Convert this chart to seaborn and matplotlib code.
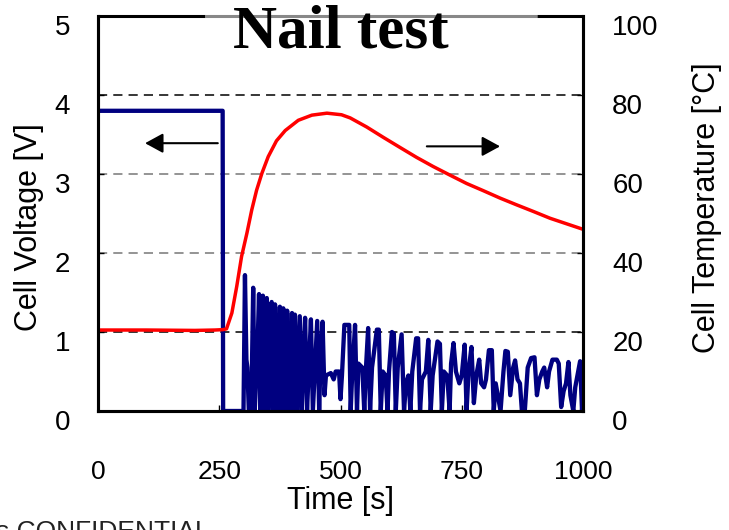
import matplotlib
matplotlib.use("Agg")
import matplotlib.pyplot as plt
import matplotlib.transforms as mtransforms
import seaborn as sns
import pandas as pd

# ---------------- data ----------------
x_ticks = [0, 250, 500, 750, 1000]
v_ticks = [0, 1, 2, 3, 4, 5]
t_ticks = [0, 20, 40, 60, 80, 100]

temp_t = [0, 100, 200, 241, 258, 265, 276, 286, 296, 307, 317, 327, 338,
          351, 368, 386, 413, 441, 472, 502, 520, 554, 588, 623, 657, 691,
          726, 760, 794, 829, 863, 898, 932, 966, 1000]
temp_c = [20.5, 20.5, 20.4, 20.5, 20.6, 20.8, 24.8, 31.5, 39.1, 45.0, 50.9,
          55.9, 60.2, 64.4, 68.4, 71.0, 73.6, 74.9, 75.4, 75.0, 74.2, 71.9,
          69.3, 66.7, 64.2, 61.9, 59.7, 57.6, 55.8, 53.9, 52.2, 50.5, 48.8,
          47.4, 46.0]

volt_t = [0, 257, 258, 300, 303, 306, 308, 311, 316, 320, 323, 328, 332, 335,
          337, 340, 343, 345, 348, 351, 354, 358, 361, 362, 365, 368, 371, 375,
          378, 380, 382, 385, 387, 390, 393, 396, 400, 403, 404, 406, 410, 413,
          416, 420, 423, 427, 431, 435, 439, 443, 447, 452, 456, 459, 463, 467,
          470, 480, 486, 490, 497, 500, 503, 508, 518, 521, 524, 530, 534, 537,
          545, 549, 553, 557, 561, 565, 575, 579, 583, 587, 593, 597, 600, 606,
          610, 614, 618, 626, 631, 635, 640, 644, 648, 656, 660, 664, 668, 676,
          681, 686, 690, 700, 705, 709, 713, 720, 725, 728, 733, 738, 745, 750,
          756, 760, 764, 770, 775, 780, 786, 790, 796, 800, 806, 812, 816, 820,
          830, 836, 840, 845, 850, 856, 860, 865, 870, 874, 880, 886, 893, 900,
          905, 910, 916, 920, 926, 930, 937, 946, 950, 955, 960, 965, 970, 974,
          980, 984, 990, 994, 998, 1000]
volt_v = [3.80, 3.80, 0.0, 0.0, 1.72, 0.65, 0.55, 0.0, 0.0, 1.56, 0.0, 0.6,
          1.48, 0.0, 0.5, 1.46, 0.0, 0.6, 1.43, 0.0, 0.55, 1.38, 0.0, 0.5,
          1.35, 0.0, 0.6, 1.32, 0.0, 0.5, 1.30, 0.0, 0.55, 1.27, 0.0, 0.6,
          1.24, 0.0, 0.5, 1.22, 0.0, 0.6, 1.20, 0.0, 0.55, 1.18, 0.0, 0.6,
          1.16, 0.0, 0.5, 1.14, 0.0, 0.7, 1.13, 0.2, 0.45, 0.48, 0.40, 0.50,
          0.50, 0.15, 0.45, 1.09, 1.09, 0.0, 0.45, 1.09, 0.0, 0.6, 0.55, 0.0,
          0.6, 1.05, 0.0, 0.55, 1.03, 1.03, 0.0, 0.5, 0.45, 0.0, 0.5, 1.0,
          0.98, 0.0, 0.55, 0.97, 0.0, 0.35, 0.45, 0.0, 0.5, 0.92, 0.92, 0.0,
          0.4, 0.5, 0.90, 0.0, 0.45, 0.88, 0.85, 0.0, 0.5, 0.45, 0.0, 0.6,
          0.86, 0.5, 0.35, 0.45, 0.84, 0.0, 0.5, 0.81, 0.1, 0.45, 0.65, 0.35,
          0.3, 0.4, 0.77, 0.77, 0.0, 0.35, 0.0, 0.5, 0.76, 0.75, 0.2, 0.55,
          0.64, 0.4, 0.35, 0.0, 0.0, 0.55, 0.67, 0.68, 0.2, 0.4, 0.5, 0.55,
          0.3, 0.5, 0.65, 0.65, 0.6, 0.05, 0.25, 0.35, 0.62, 0.2, 0.0, 0.3,
          0.5, 0.63, 0.0, 0.3]

title_text = "Nail test"
x_label = "Time [s]"
y_label_left = "Cell Voltage [V]"
y_label_right = "Cell Temperature [°C]"
footer_text = "s CONFIDENTIAL"

volt_df = pd.DataFrame({"t": volt_t, "v": volt_v})
temp_df = pd.DataFrame({"t": temp_t, "c": temp_c})

# ---------------- style ----------------
sns.set_style("white")
plt.rcParams["font.family"] = ["Liberation Sans", "DejaVu Sans"]
plt.rcParams["text.color"] = "black"
plt.rcParams["axes.labelcolor"] = "black"
plt.rcParams["xtick.color"] = "black"
plt.rcParams["ytick.color"] = "black"

fig = plt.figure(figsize=(7.29, 5.30), dpi=100)
ax = fig.add_axes([98 / 729, 119 / 530, 485 / 729, 395 / 530])
ax2 = ax.twinx()

NAVY = "#000080"
RED = "#ff0000"

# gridlines
for yv, col in [(1, "black"), (2, "#777777"), (3, "#777777"), (4, "black")]:
    ax.axhline(yv, color=col, lw=1.1, ls=(0, (6, 4)), zorder=0.5)

sns.lineplot(data=volt_df, x="t", y="v", ax=ax, color=NAVY, lw=3.1,
             sort=False, estimator=None)
sns.lineplot(data=temp_df, x="t", y="c", ax=ax2, color=RED, lw=2.5,
             sort=False, estimator=None)

ax.set_xlim(0, 1000)
ax.set_ylim(0, 5)
ax2.set_ylim(0, 100)
ax.set_xticks(x_ticks)
ax.set_yticks(v_ticks)
ax2.set_yticks(t_ticks)
ax.set_xticklabels([str(v) for v in x_ticks])
ax.set_yticklabels([str(v) for v in v_ticks])
ax2.set_yticklabels([str(v) for v in t_ticks])

ax.tick_params(axis="x", direction="in", length=4, width=1, pad=35,
               labelsize=19, bottom=True, top=False)
ax.tick_params(axis="y", direction="in", length=4, width=1, pad=20,
               labelsize=20, left=True, right=False)
ax2.tick_params(axis="y", direction="in", length=4, width=1, pad=21,
                labelsize=20, right=True, left=False)

# shift y tick labels down a little as in the reference
off = mtransforms.ScaledTranslation(0, -9 / 100, fig.dpi_scale_trans)
for a in (ax, ax2):
    for tk in a.yaxis.get_major_ticks():
        tk.label1.set_transform(tk.label1.get_transform() + off)
        tk.label2.set_transform(tk.label2.get_transform() + off)

ax.set_xlabel(x_label, fontsize=22)
ax.xaxis.set_label_coords(0.5, -0.19)
ax.set_ylabel(y_label_left, fontsize=22)
ax.yaxis.set_label_coords(-0.112, 0.466)
ax2.set_ylabel(y_label_right, fontsize=22, rotation=90)
ax2.yaxis.set_label_coords(1.225, 0.514)

# spines
for a in (ax, ax2):
    for s in a.spines.values():
        s.set_linewidth(2.2)
        s.set_color("black")
    a.spines["top"].set_visible(False)
ax2.plot([0, 0.22], [1, 1], transform=ax2.transAxes, color="black", lw=2.2,
         clip_on=False, solid_capstyle="butt")
ax2.plot([0.22, 0.905], [1, 1], transform=ax2.transAxes, color="#888888",
         lw=2.2, clip_on=False, solid_capstyle="butt")
ax2.plot([0.905, 1], [1, 1], transform=ax2.transAxes, color="black", lw=2.2,
         clip_on=False, solid_capstyle="butt")

# arrows
arrow_kw = dict(arrowstyle="-|>,head_length=0.55,head_width=0.3",
                color="black", lw=1.5, shrinkA=0, shrinkB=0, mutation_scale=20)
ax2.annotate("", xy=(97, 3.39), xytext=(247, 3.39), xycoords=ax.transData,
             textcoords=ax.transData, arrowprops=arrow_kw)
ax2.annotate("", xy=(829, 3.35), xytext=(678, 3.35), xycoords=ax.transData,
             textcoords=ax.transData, arrowprops=arrow_kw)

# title inside the plot
ax2.text(0.5, 0.9215, title_text, transform=ax.transAxes, ha="center",
         va="baseline", fontsize=44, fontweight="bold", color="black",
         fontfamily=["Liberation Serif", "DejaVu Serif"], zorder=10)

# clipped footer text
fig.text(-0.006, -0.017, footer_text, fontsize=19, color="#222222",
         ha="left", va="baseline")

fig.savefig("out.png", dpi=100)
